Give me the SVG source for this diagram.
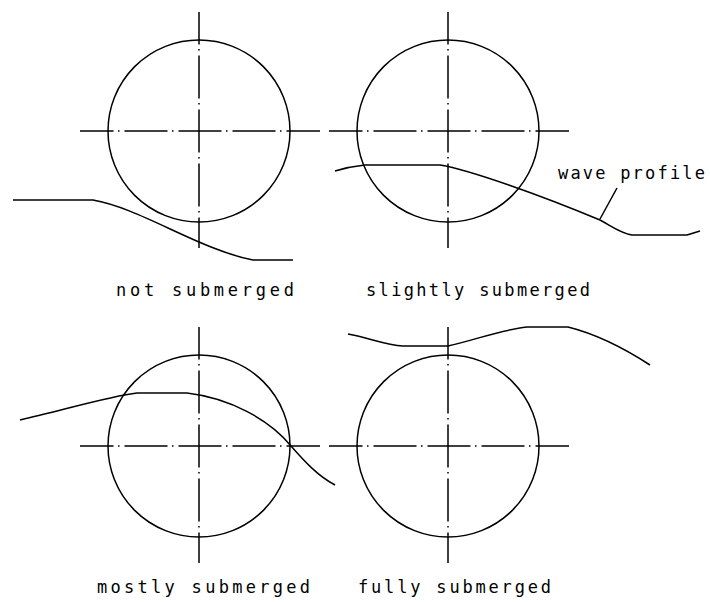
<svg xmlns="http://www.w3.org/2000/svg" width="710" height="602" viewBox="0 0 710 602">
<style>
.c{fill:none;stroke:#000;stroke-width:1.5}
.ch{fill:none;stroke:#000;stroke-width:1.5;stroke-dasharray:43 4.5 1.5 5;stroke-dashoffset:9.5}
.cv{fill:none;stroke:#000;stroke-width:1.5;stroke-dasharray:43 4.5 1.5 5;stroke-dashoffset:10.5}
.w{fill:none;stroke:#000;stroke-width:1.5;stroke-linejoin:round}
.t{font-family:"DejaVu Sans Mono","Liberation Mono",monospace;font-size:17px;fill:#000}
</style>
<rect width="710" height="602" fill="#fff"/>
<g id="not-submerged">
<circle class="c" cx="199" cy="131" r="91"/>
<line class="ch" x1="80" y1="131" x2="320" y2="131"/>
<line class="cv" x1="199" y1="12" x2="199" y2="248"/>
<path class="w" d="M13,200 L93,200 C140,208 200,250 253,260 L293,260"/>
<text class="t" x="116" y="296" textLength="178" lengthAdjust="spacing">not submerged</text>
</g>
<g id="slightly-submerged">
<circle class="c" cx="448" cy="131" r="91"/>
<line class="ch" x1="329" y1="131" x2="569" y2="131"/>
<line class="cv" x1="448" y1="12" x2="448" y2="248"/>
<path class="w" d="M335,171 C345,168 355,166 365,165 L440,165 C470,170 540,195 600,220 C613,227 620,233 632,235 L687,235 L700,231"/>
<line class="w" x1="600" y1="219" x2="617" y2="188"/>
<text class="t" x="366" y="296" textLength="224" lengthAdjust="spacing">slightly submerged</text>
<text class="t" x="558" y="179" textLength="147" lengthAdjust="spacing">wave profile</text>
</g>
<g id="mostly-submerged">
<circle class="c" cx="199" cy="446" r="91"/>
<line class="ch" x1="80" y1="446" x2="320" y2="446"/>
<line class="cv" x1="199" y1="327" x2="199" y2="563"/>
<path class="w" d="M20,420 C60,411 110,396 137,393 L187,393 C230,398 270,420 291,446 C305,462 318,476 335,485"/>
<text class="t" x="97" y="593" textLength="213" lengthAdjust="spacing">mostly submerged</text>
</g>
<g id="fully-submerged">
<circle class="c" cx="448" cy="446" r="91"/>
<line class="ch" x1="329" y1="446" x2="569" y2="446"/>
<line class="cv" x1="448" y1="327" x2="448" y2="563"/>
<path class="w" d="M348,334 C370,338 385,345 403,346 L448,346 C475,340 500,330 527,327 L568,327 C600,335 630,352 650,365"/>
<text class="t" x="358" y="593" textLength="193" lengthAdjust="spacing">fully submerged</text>
</g>
</svg>
